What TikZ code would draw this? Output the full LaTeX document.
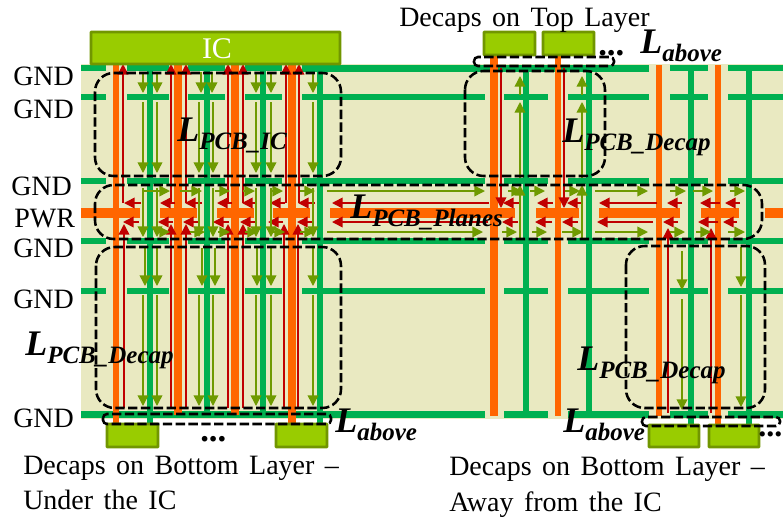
\documentclass[tikz,border=0pt]{standalone}
\usepackage{fontspec}
\setmainfont[WordSpace=1.5]{Liberation Serif}
\usetikzlibrary{arrows.meta}
\definecolor{bgb}{HTML}{E9E9C1}
\definecolor{gnd}{HTML}{00B050}
\definecolor{pwr}{HTML}{FF6600}
\definecolor{red1}{HTML}{C00000}
\definecolor{oli}{HTML}{6F9A00}
\definecolor{boxf}{HTML}{99CC00}
\definecolor{boxd}{HTML}{719600}
\newcommand{\LL}[1]{{\fontsize{27}{27}\selectfont\bfseries\itshape L\raisebox{-6pt}{\fontsize{18.75}{19}\selectfont #1}}}
\tikzset{
 x=0.75pt,y=-0.75pt,
 plane/.style={gnd,line width=5.2pt},
 pplane/.style={pwr,line width=6.8pt},
 gvia/.style={gnd,line width=5.2pt},
 ovia/.style={pwr,line width=4.8pt},
 redarr/.style={red1,line width=1.2pt,-{Triangle[width=8pt,length=8pt]}},
 oliarr/.style={oli,line width=1.1pt,-{Triangle[width=8pt,length=8pt]}},
 dbox/.style={black,line width=1.9pt,dash pattern=on 7pt off 2.6pt,rounded corners=14pt},
 sbox/.style={black,line width=1.9pt,dash pattern=on 7pt off 2.6pt,rounded corners=3pt},
 part/.style={draw=boxd,fill=boxf,line width=2.2pt,rounded corners=0.5pt},
 txt/.style={anchor=base west,inner sep=0pt,font=\fontsize{21}{21}\selectfont},
 lbl/.style={anchor=base west,inner sep=0pt},
}
\begin{document}
\begin{tikzpicture}
\useasboundingbox (0,0) rectangle (783,519);
\fill[bgb] (81,64) rectangle (783,419);
% ground planes
\foreach \y in {68,97,181,241,291}{
 \foreach \a/\b in {81/106,127/169,188/225,245/282,302/485,504/548,568/649,670/708,728/783}
  \draw[plane] (\a,\y) -- (\b,\y);
}
\fill[gnd] (302,64.5) rectangle (649,71.5);
\foreach \a/\b in {81/649,670/708,728/783}
 \draw[plane] (\a,414.5) -- (\b,414.5);
\fill[bgb] (485,411) rectangle (504,419);
\fill[bgb] (548,411) rectangle (568,419);
\draw[plane] (504,414.5) -- (548,414.5);
% power plane
\foreach \a/\b in {81/140,160/197,217/254,273/310,330/515,536/579,599/680,701/739,765/783}
 \draw[pplane] (\a,213) -- (\b,213);
% green vias
\foreach \x/\e in {150/424,207/414,263/414,320/424,526/414,589/414,691/424,749/424}
 \draw[gvia] (\x,68) -- (\x,\e);
% orange vias
\foreach \x/\s/\e in {116/65/424,558/55/416,659/65/416,718/65/424}
 \draw[ovia] (\x,\s) -- (\x,\e);
\draw[pwr,line width=6pt] (178,65) -- (178,415);
\draw[pwr,line width=6pt] (235,65) -- (235,415);
\draw[pwr,line width=5.4pt] (292,65) -- (292,424);
\draw[pwr,line width=5.4pt] (494,55) -- (494,416);
% red: left
\foreach \x in {123,171,186,228,243,286,299}
 \draw[redarr] (\x,203) -- (\x,64);
\foreach \x in {124,171,186,228,243,284,298}
 \draw[redarr] (\x,408) -- (\x,224);
\foreach \a/\b in {141/124,175/160,202/185,232/217,257/242,285/270,315/298,489/332,520/503,553/537,582/567,657/599,682/667,720/700,740/725}
 \draw[redarr] (\a,203) -- (\b,203);
\foreach \a/\b in {139/123,173/158,199/183,229/213,257/240,283/268,313/297,488/332,518/502,552/535,578/562,653/597,678/663,718/698,737/723}
 \draw[redarr] (\a,222) -- (\b,222);
% red: right
\foreach \x in {501,564}
 \draw[redarr] (\x,68) -- (\x,208);
\foreach \x in {668,711}
 \draw[redarr] (\x,413) -- (\x,228);
% olive: under the IC
\foreach \x in {143,157,201,212,256,271,313}
 \draw[oliarr] (\x,72) -- (\x,93);
\foreach \x in {143,157,199,213,256,271,313}{
 \draw[oliarr] (\x,102) -- (\x,173);
 \draw[oliarr] (\x,188) -- (\x,237);
 \draw[oliarr] (\x,295) -- (\x,406);
}
\foreach \x in {145,157,202,215,257,271,313}
 \draw[oliarr] (\x,248) -- (\x,286);
% olive: horizontal
\foreach \a/\b in {143/170,180/202,215/230,243/255,272/283,300/315,327/485,508/522,530/545,565/580,595/648,670/686,693/713,730/745}
 \draw[oliarr] (\a,191) -- (\b,191);
\foreach \a/\b in {158/170,190/205,218/230,245/258,272/285,300/315,327/483,502/517,532/547,562/583,595/648,670/685,696/711,728/745}
 \draw[oliarr] (\a,232) -- (\b,232);
% olive: top decaps
\foreach \x in {520,582}{
 \draw[oliarr] (\x,95) -- (\x,76);
 \draw[oliarr] (\x,178) -- (\x,102);
 \draw[oliarr] (\x,238) -- (\x,185);
}
% olive: bottom right
\draw[oliarr] (682,251) -- (682,290);
\draw[oliarr] (682,299) -- (682,410);
\draw[oliarr] (741,247) -- (741,287);
\draw[oliarr] (741,295) -- (741,407);
% parts
\draw[part] (91,32) rectangle (340,64);
\draw[part] (484,32) rectangle (535,55);
\draw[part] (543,32) rectangle (594,55);
\draw[part] (107,424) rectangle (158,447);
\draw[part] (276,424) rectangle (327,447);
\draw[part] (649,425) rectangle (699,447);
\draw[part] (709,425) rectangle (759,447);
% dashed regions
\draw[dbox] (95,73) rectangle (341,176);
\draw[dbox] (95,185) rectangle (762,239);
\draw[dbox] (96,247) rectangle (341,408);
\draw[dbox] (465,71) rectangle (605,176);
\draw[dbox] (626,246) rectangle (765,408);
\draw[sbox] (103,414) rectangle (331,424);
\draw[sbox] (474,57) rectangle (614,66);
\draw[sbox] (642,417) rectangle (780,426);
% text
\node[anchor=center,inner sep=0pt,text=white,font=\fontsize{22.5}{22.5}\selectfont] (ic) at (217,49) {IC};
\node[txt] (g1) at (13,85) {GND};
\node[txt] (g2) at (13,118) {GND};
\node[txt] (g3) at (11,195) {GND};
\node[txt] (p1) at (14,227) {PWR};
\node[txt] (g4) at (13,257) {GND};
\node[txt] (g5) at (13,308) {GND};
\node[txt] (g6) at (13,427) {GND};
\node[txt] (t1) at (399,26) {Decaps on Top Layer};
\node[txt] (t2) at (23,474) {Decaps on Bottom Layer –};
\node[txt] (t3) at (23,509) {Under the IC};
\node[txt] (t4) at (449,475) {Decaps on Bottom Layer –};
\node[txt] (t5) at (449,511) {Away from the IC};
\node[lbl] (d1) at (598,55) {\fontsize{26}{26}\selectfont\bfseries ...};
\node[lbl] (d2) at (200,441) {\fontsize{26}{26}\selectfont\bfseries ...};
\node[lbl] (d3) at (758,436) {\fontsize{24}{24}\selectfont\bfseries ...};
\node[lbl] (l1) at (177,141) {\LL{PCB\_IC}};
\node[lbl] (l2) at (562,142) {\LL{PCB\_Decap}};
\node[lbl] (l3) at (350,218) {\LL{PCB\_Planes}};
\node[lbl] (l4) at (640,53) {\LL{above}};
\node[lbl] (l5) at (25,355) {\LL{PCB\_Decap}};
\node[lbl] (l6) at (335,432) {\LL{above}};
\node[lbl] (l7) at (577,370) {\LL{PCB\_Decap}};
\node[lbl] (l8) at (563,432) {\LL{above}};
\end{tikzpicture}
\end{document}
